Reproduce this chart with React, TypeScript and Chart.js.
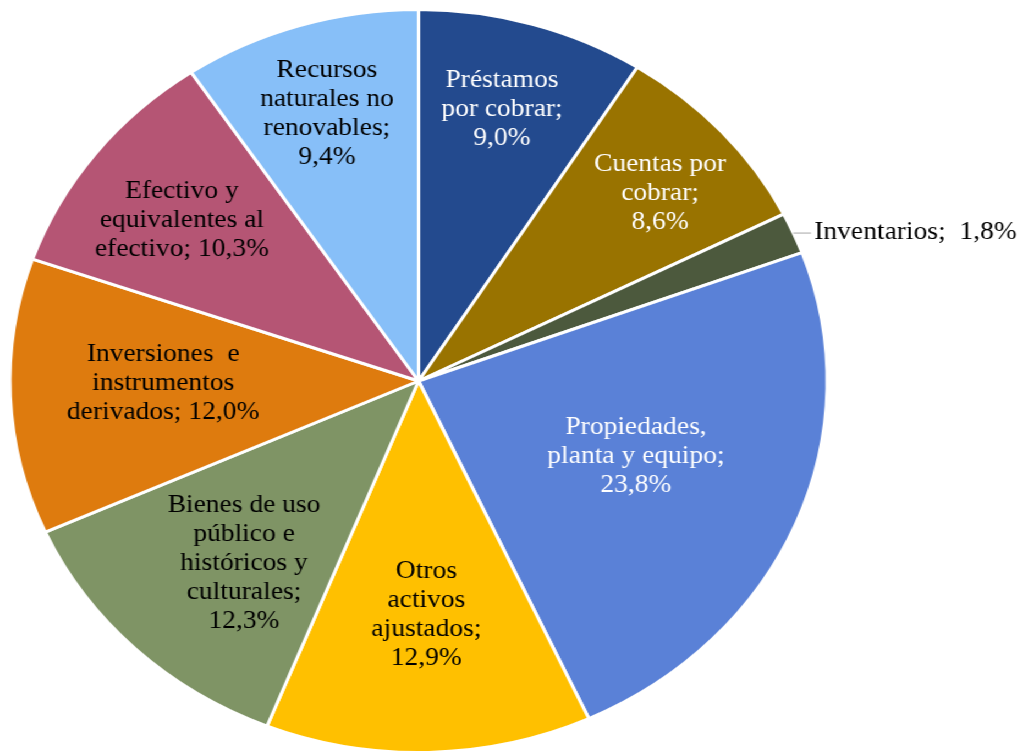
import React, { useEffect, useRef } from "react";
import { Chart, registerables } from "chart.js";

Chart.register(...registerables);

const categories = [
  "Préstamos por cobrar",
  "Cuentas por cobrar",
  "Inventarios",
  "Propiedades, planta y equipo",
  "Otros activos ajustados",
  "Bienes de uso público e históricos y culturales",
  "Inversiones e instrumentos derivados",
  "Efectivo y equivalentes al efectivo",
  "Recursos naturales no renovables",
];

const shares = [9.0, 8.6, 1.8, 23.8, 12.9, 12.3, 12.0, 10.3, 9.4];

const labelTemplates = [
  "Préstamos\npor cobrar;\n{v}",
  "Cuentas por\ncobrar;\n{v}",
  "Inventarios;  {v}",
  "Propiedades,\nplanta y equipo;\n{v}",
  "Otros\nactivos\najustados;\n{v}",
  "Bienes de uso\npúblico e\nhistóricos y\nculturales;\n{v}",
  "Inversiones  e\ninstrumentos\nderivados; {v}",
  "Efectivo y\nequivalentes al\nefectivo; {v}",
  "Recursos\nnaturales no\nrenovables;\n{v}",
];

const sliceColors = [
  "#234a8e",
  "#997300",
  "#4c593d",
  "#5a81d7",
  "#ffc000",
  "#7f9465",
  "#de7b0e",
  "#b55574",
  "#87bff8",
];

const labelColors = [
  "#ffffff",
  "#ffffff",
  "#000000",
  "#ffffff",
  "#000000",
  "#000000",
  "#000000",
  "#000000",
  "#000000",
];

// label placement: fraction of the radius, and angular shift (deg) from the slice's mid-angle;
// negative fraction = outside label with a leader line
const labelRadius = [0.76, 0.778, -1, 0.569, 0.63, 0.65, 0.625, 0.723, 0.754];
const labelShift = [-0.6, 1.6, 0, -1.8, -0.3, -2.8, 1.9, -0.9, -0.4];

const STRETCH_X = 1.1;
const CANVAS_W = 925;
const CANVAS_H = 752;
const FONT_SIZE = 25;
const LINE_H = 29;

const fmt = (v: number) => v.toFixed(1).replace(".", ",") + "%";

const labelPlugin = {
  id: "sliceLabels",
  afterDatasetsDraw(chart: any) {
    const ctx = chart.ctx as CanvasRenderingContext2D;
    const meta = chart.getDatasetMeta(0);
    ctx.save();
    ctx.font = `${FONT_SIZE}px "Liberation Serif", "Times New Roman", serif`;
    ctx.textBaseline = "middle";
    meta.data.forEach((arc: any, i: number) => {
      const { x, y, startAngle, endAngle, outerRadius } = arc.getProps(
        ["x", "y", "startAngle", "endAngle", "outerRadius"],
        true
      );
      const mid = (startAngle + endAngle) / 2 + (labelShift[i] * Math.PI) / 180;
      const text = labelTemplates[i].replace("{v}", fmt(shares[i]));
      const lines = text.split("\n");
      ctx.fillStyle = labelColors[i];
      if (labelRadius[i] < 0) {
        const r = outerRadius;
        const ex = x + Math.cos(mid) * r;
        const ey = y + Math.sin(mid) * r;
        ctx.strokeStyle = "#a6a6a6";
        ctx.lineWidth = 1;
        ctx.beginPath();
        ctx.moveTo(ex, ey);
        ctx.lineTo(ex + 16, ey);
        ctx.stroke();
        ctx.textAlign = "left";
        ctx.fillText(lines[0], ex + 19, ey - 1);
        return;
      }
      ctx.textAlign = "center";
      const r = outerRadius * labelRadius[i];
      const cx = x + Math.cos(mid) * r;
      const cy = y + Math.sin(mid) * r;
      const y0 = cy - ((lines.length - 1) * LINE_H) / 2;
      lines.forEach((ln, j) => ctx.fillText(ln, cx, y0 + j * LINE_H));
    });
    ctx.restore();
  },
};

export default function App() {
  const canvasRef = useRef<HTMLCanvasElement | null>(null);

  useEffect(() => {
    if (!canvasRef.current) return;
    const chart = new Chart(canvasRef.current, {
      type: "pie",
      data: {
        labels: categories,
        datasets: [
          {
            data: shares,
            backgroundColor: sliceColors,
            borderColor: "#ffffff",
            borderWidth: 3,
            radius: 371.5,
          } as any,
        ],
      },
      options: {
        responsive: false,
        animation: false,
        devicePixelRatio: 1,
        layout: { padding: { left: 9, top: 10, right: 173, bottom: 0 } },
        plugins: {
          legend: { display: false },
          tooltip: { enabled: false },
        },
        events: [],
      },
      plugins: [labelPlugin],
    });
    return () => chart.destroy();
  }, []);

  return (
    <div
      style={{
        position: "absolute",
        left: 0,
        top: 0,
        width: CANVAS_W,
        height: CANVAS_H,
        transform: `scaleX(${STRETCH_X})`,
        transformOrigin: "0 0",
        background: "#ffffff",
      }}
    >
      <canvas
        ref={canvasRef}
        width={CANVAS_W}
        height={CANVAS_H}
        style={{ width: CANVAS_W, height: CANVAS_H, display: "block" }}
      />
    </div>
  );
}
